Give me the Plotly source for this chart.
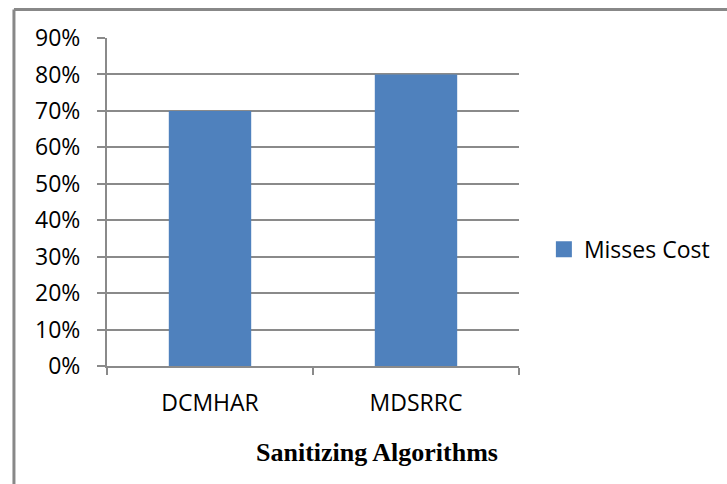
import plotly.graph_objects as go

categories = ["DCMHAR", "MDSRRC"]
misses_cost = [0.70, 0.80]
series_name = "Misses Cost"
y_tick_values = [0, 0.1, 0.2, 0.3, 0.4, 0.5, 0.6, 0.7, 0.8, 0.9]
y_tick_labels = ["0%", "10%", "20%", "30%", "40%", "50%", "60%", "70%", "80%", "90%"]
x_title = "Sanitizing Algorithms"

W, H = 727, 484
L, R, T, B = 107, 206, 37.5, 118
pw, ph = W - L - R, H - T - B

def px_x(x):
    return (x - L) / pw

def px_y(y):
    return (H - B - y) / ph

grid = "#8a8a8a"
bar_color = "#4F81BD"
font = "Open Sans"
fs = 23

fig = go.Figure()
fig.add_trace(go.Bar(
    x=categories, y=misses_cost, name=series_name,
    marker=dict(color=bar_color, line=dict(width=0)),
    width=0.4, showlegend=False, legendgroup="s",
))
# legend entry with a larger square swatch, like the reference
fig.add_trace(go.Scatter(
    x=[None], y=[None], mode="markers", name=series_name, legendgroup="s",
    marker=dict(symbol="square", size=16, color=bar_color), showlegend=True,
))

fig.update_layout(
    width=W, height=H,
    margin=dict(l=L, r=R, t=T, b=B, pad=0),
    paper_bgcolor="white", plot_bgcolor="white",
    font=dict(family=font, size=fs, color="black"),
    showlegend=True,
    legend=dict(x=px_x(546), y=px_y(249), xanchor="left", yanchor="middle",
                font=dict(family=font, size=fs, color="black"),
                bgcolor="rgba(0,0,0,0)", itemwidth=30),
    xaxis=dict(
        showgrid=False, showline=True, linecolor=grid, linewidth=2,
        ticks="outside", tickson="boundaries", ticklen=7, tickcolor=grid, tickwidth=2,
        tickfont=dict(family=font, size=fs), ticklabelstandoff=15,
        range=[-0.5, 1.5],
    ),
    yaxis=dict(
        range=[0, 0.9], tickvals=y_tick_values, ticktext=y_tick_labels,
        showgrid=True, gridcolor=grid, gridwidth=2,
        showline=True, linecolor=grid, linewidth=2,
        ticks="outside", ticklen=8, tickcolor=grid, tickwidth=2,
        tickfont=dict(family=font, size=fs), ticklabelstandoff=12,
        zeroline=False,
    ),
    annotations=[dict(
        text="<b>" + x_title + "</b>", xref="paper", yref="paper",
        x=px_x(378), y=px_y(453), xanchor="center", yanchor="middle",
        showarrow=False, font=dict(family="Liberation Serif", size=26, color="black"),
    )],
    shapes=[
        dict(type="line", xref="paper", yref="paper",
             x0=px_x(13.5), x1=px_x(800), y0=px_y(9), y1=px_y(9),
             line=dict(color="#888888", width=3)),
        dict(type="line", xref="paper", yref="paper",
             x0=px_x(13.5), x1=px_x(13.5), y0=px_y(9), y1=px_y(560),
             line=dict(color="#888888", width=3)),
    ],
)

fig.write_html("out.html", config={"displayModeBar": False},
               post_script="document.body.style.margin='0';")
